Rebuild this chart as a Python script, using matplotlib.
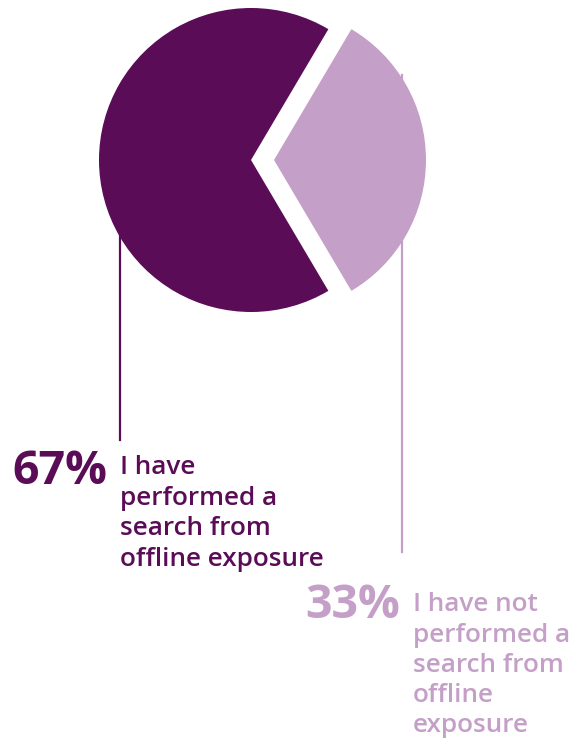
import matplotlib.pyplot as plt

# search behaviour after offline exposure
shares = [67, 33]
labels = ["I have\nperformed a\nsearch from\noffline exposure",
          "I have not\nperformed a\nsearch from\noffline\nexposure"]
colors = ["#5a0c57", "#c49fc7"]

W, H = 574, 741
fig = plt.figure(figsize=(W / 100, H / 100), dpi=100)
ax = fig.add_axes([0, 0, 1, 1])

cx, cy, r = 251, 160, 152
ax.pie(shares, colors=colors, center=(cx, cy), radius=r,
       startangle=shares[1] / 100 * 180, explode=[0, 23],
       frame=True, wedgeprops=dict(linewidth=0, zorder=2))
ax.set_xlim(0, W)
ax.set_ylim(H, 0)
ax.axis("off")

# leader lines
ax.plot([120, 120], [230, 440], color=colors[0], lw=1.6, zorder=1)
ax.plot([402, 402], [75, 552], color=colors[1], lw=1.6, zorder=1)

# va="baseline" pins the last line's baseline
font = ["Open Sans", "DejaVu Sans"]
ax.text(12, 471, f"{shares[0]}%", color=colors[0], fontsize=33.5,
        fontweight="bold", family=font, va="center", ha="left")
ax.text(120, 566, labels[0], color=colors[0], fontsize=18.8,
        fontweight="semibold", family=font, va="baseline", ha="left",
        linespacing=1.29)

ax.text(305, 606, f"{shares[1]}%", color=colors[1], fontsize=33.5,
        fontweight="bold", family=font, va="center", ha="left")
ax.text(413, 732, labels[1], color=colors[1], fontsize=18.8,
        fontweight="semibold", family=font, va="baseline", ha="left",
        linespacing=1.27)

fig.savefig("out.png", dpi=100)
